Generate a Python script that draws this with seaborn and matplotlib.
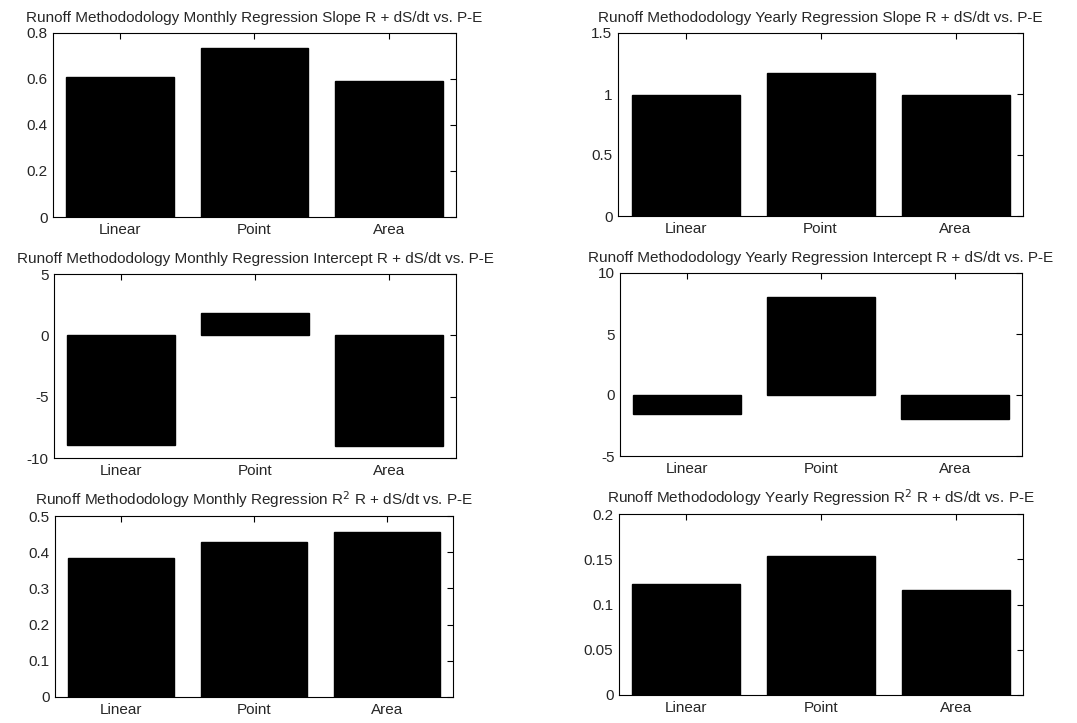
import matplotlib
matplotlib.use("Agg")
import matplotlib.pyplot as plt
import seaborn as sns
import pandas as pd

sns.set_style("white")
plt.rcParams["font.family"] = ["Liberation Sans", "DejaVu Sans"]
plt.rcParams["mathtext.fontset"] = "custom"
plt.rcParams["mathtext.rm"] = "Liberation Sans"
plt.rcParams["mathtext.it"] = "Liberation Sans"

methods = ["Linear", "Point", "Area"]

monthly_slope = [0.607, 0.735, 0.591]
yearly_slope = [0.988, 1.176, 0.991]
monthly_intercept = [-8.9, 1.85, -9.0]
yearly_intercept = [-1.56, 8.0, -2.0]
monthly_r2 = [0.383, 0.428, 0.455]
yearly_r2 = [0.1225, 0.154, 0.116]

titles = [
    "Runoff Methododology Monthly Regression Slope R + dS/dt vs. P-E",
    "Runoff Methododology Yearly Regression Slope R + dS/dt vs. P-E",
    "Runoff Methododology Monthly Regression Intercept R + dS/dt vs. P-E",
    "Runoff Methododology Yearly Regression Intercept R + dS/dt vs. P-E",
    "Runoff Methododology Monthly Regression R$^{\\mathsf{2}}$ R + dS/dt vs. P-E",
    "Runoff Methododology Yearly Regression R$^{\\mathsf{2}}$ R + dS/dt vs. P-E",
]
series = [monthly_slope, yearly_slope, monthly_intercept,
          yearly_intercept, monthly_r2, yearly_r2]
ylims = [(0, 0.8), (0, 1.5), (-10, 5), (-5, 10), (0, 0.5), (0, 0.2)]
yticks = [
    [0, 0.2, 0.4, 0.6, 0.8],
    [0, 0.5, 1, 1.5],
    [-10, -5, 0, 5],
    [-5, 0, 5, 10],
    [0, 0.1, 0.2, 0.3, 0.4, 0.5],
    [0, 0.05, 0.1, 0.15, 0.2],
]
yticklabels = [
    ["0", "0.2", "0.4", "0.6", "0.8"],
    ["0", "0.5", "1", "1.5"],
    ["-10", "-5", "0", "5"],
    ["-5", "0", "5", "10"],
    ["0", "0.1", "0.2", "0.3", "0.4", "0.5"],
    ["0", "0.05", "0.1", "0.15", "0.2"],
]

W, H = 1077, 723
# axes boxes in pixels: left, top, right, bottom
boxes = [
    (53, 33, 456, 217),
    (618, 33, 1023, 216),
    (54, 274, 456, 458),
    (620, 273, 1022, 456),
    (55, 516, 453, 697),
    (619, 514, 1023, 695),
]

fig = plt.figure(figsize=(W / 100, H / 100), dpi=100)
fig.patch.set_facecolor("white")

for vals, title, ylim, yt, ytl, (l, t, r, b) in zip(
        series, titles, ylims, yticks, yticklabels, boxes):
    ax = fig.add_axes([l / W, 1 - b / H, (r - l) / W, (b - t) / H])
    df = pd.DataFrame({"method": methods, "value": vals})
    sns.barplot(data=df, x="method", y="value", color="black",
                width=0.8, saturation=1, edgecolor="black", ax=ax)
    ax.set_xlim(-0.5, 2.5)
    ax.set_ylim(*ylim)
    ax.set_yticks(yt)
    ax.set_yticklabels(ytl)
    ax.set_xlabel("")
    ax.set_ylabel("")
    ax.set_title(title, fontsize=11, pad=8)
    ax.tick_params(axis="both", which="both", direction="in", length=4,
                   width=0.8, color="black", top=True, right=True,
                   labelsize=11, pad=4)
    for s in ax.spines.values():
        s.set_visible(True)
        s.set_color("black")
        s.set_linewidth(0.8)

fig.savefig("out.png", dpi=100, facecolor="white")
